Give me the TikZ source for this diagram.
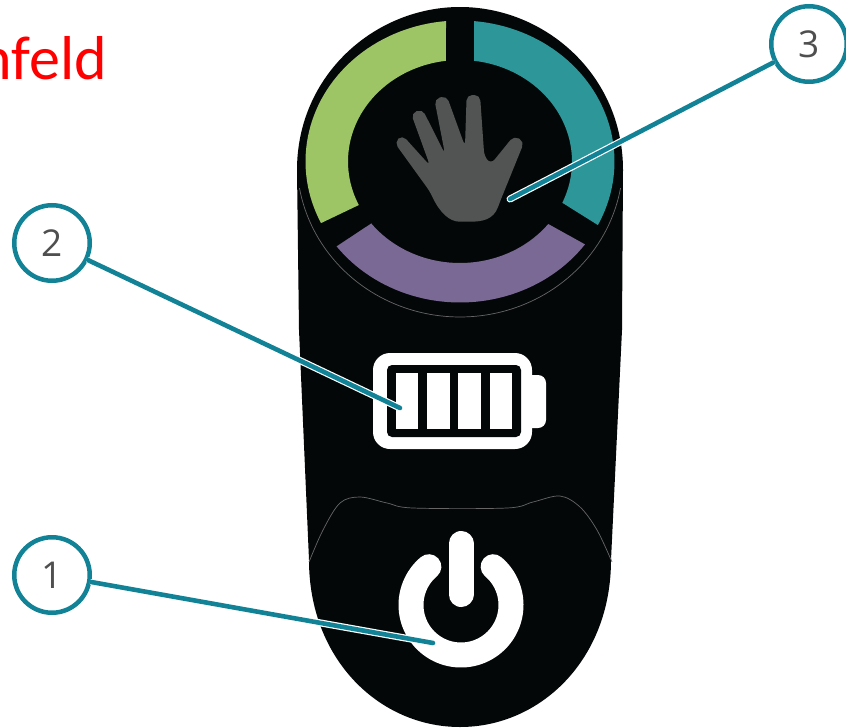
\documentclass[tikz,border=0pt]{standalone}
\usepackage{fontspec}
\setmainfont{Open Sans}
\newfontfamily\redfont{Carlito}
\definecolor{bodyblack}{HTML}{040708}
\definecolor{ringgreen}{HTML}{9DC565}
\definecolor{ringteal}{HTML}{2C9699}
\definecolor{ringpurple}{HTML}{7A6895}
\definecolor{handgray}{HTML}{525453}
\definecolor{leader}{HTML}{128296}
\definecolor{labelgray}{HTML}{4F4F4F}
\definecolor{seam}{HTML}{666666}
\tikzset{
  callout/.style={circle,draw=leader,line width=4.5pt,fill=white,minimum size=75.5pt,inner sep=0pt,text=labelgray,font=\fontsize{37}{37}\selectfont},
  leaderhalo/.style={white,line width=7pt,line cap=round,shorten <=1.5pt},
  leaderline/.style={leader,line width=4.6pt,line cap=round},
  seamline/.style={seam,line width=0.7pt},
  powerstroke/.style={white,line width=25pt,line cap=round},
}
\newcommand{\ringseg}[5]{%
  \fill[#1] plot[domain=#2:#3,samples=50,variable=\t] ({460+154.5*cos(\t)},{161.5-141*sin(\t)})
   -- plot[domain=#5:#4,samples=50,variable=\t] ({460+112*cos(\t)},{161.5-101.5*sin(\t)}) -- cycle;}
\begin{document}
\begin{tikzpicture}[x=1pt,y=-1pt]
\useasboundingbox (0,0) rectangle (846,728);
\fill[white] (0,0) rectangle (846,728);
% red text
\node[anchor=base east,inner sep=0pt,text=red,font=\redfont\fontsize{62}{62}\selectfont] (title) at (107,79) {nfeld};
% body
\fill[bodyblack] (297,170) .. controls (297,75) and (375,7) .. (460,7)
  .. controls (545,7) and (623,75) .. (623,170)
  -- (622,330) -- (611,560)
  .. controls (611,660) and (540,727) .. (460,727)
  .. controls (380,727) and (309,660) .. (309,560)
  -- (299,330) -- cycle;
% seams
\draw[seamline] plot[domain=190:350,samples=80,variable=\t] ({460+163*cos(\t)},{161-156*sin(\t)});
\draw[seamline] plot[smooth,tension=0.55] coordinates {(309,562) (323,530) (340,503) (360,497) (387,503) (413,508) (507,508) (533,502) (560,496) (580,507) (597,530) (612,562)};
% ring
\ringseg{ringgreen}{95.2}{205.9}{97.2}{205.4}
\ringseg{ringteal}{84.8}{-26.8}{82.8}{-24}
\ringseg{ringpurple}{217}{324}{217.6}{322}
% hand
\begin{scope}[shift={(385,85)},x=0.3333pt,y=-0.3333pt]
\fill[handgray,rounded corners=5.6pt] (80,244) -- (28,172) -- (52,150) -- (135,242)
 -- (78,85) -- (112,72) -- (180,207)
 -- (148,42) -- (185,32) -- (240,184)
 -- (245,30) -- (285,30) -- (298,215) -- (318,237)
 -- (387,152) -- (418,170) -- (345,350)
 .. controls (325,405) and (290,410) .. (240,410)
 .. controls (195,410) and (165,385) .. (135,320) -- cycle;
\end{scope}
% battery
\fill[white,rounded corners=8pt] (520,375) rectangle (546,428);
\fill[white,rounded corners=17pt] (373,353) rectangle (532,449);
\fill[bodyblack,rounded corners=5pt] (387,365) rectangle (521,437);
\foreach \a/\b in {396/418,427/450,458/481,490/512}{\fill[white] (\a,373) rectangle (\b,429);}
% power
\draw[powerstroke] plot[domain=130:410,samples=80,variable=\t] ({461+50*cos(\t)},{605-50*sin(\t)});
\draw[powerstroke] (461,543.5) -- (461,594.5);
% callouts
\node[callout] (n3) at (809,44) {3};
\node[callout] (n2) at (52,243) {2};
\node[callout] (n1) at (52,575) {1};
\coordinate (e3) at (510,199);
\coordinate (e2) at (400,408);
\coordinate (e1) at (433,643);
\foreach \n/\e in {n3/e3,n2/e2,n1/e1}{
 \draw[leaderhalo] (\n) -- (\e);
 \draw[leaderline] (\n) -- (\e);
}
\end{tikzpicture}
\end{document}
